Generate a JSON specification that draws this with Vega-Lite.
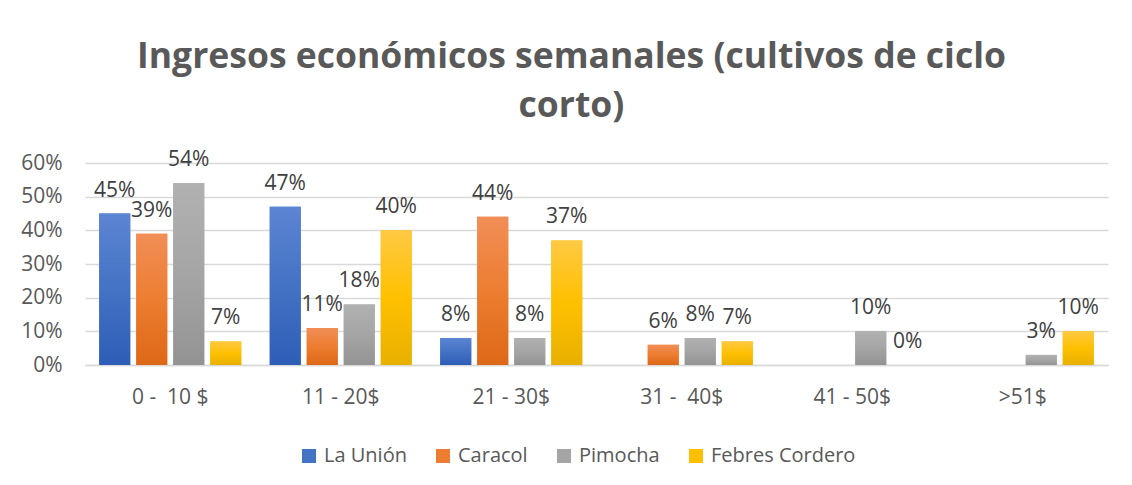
{
  "$schema": "https://vega.github.io/schema/vega-lite/v6.json",
  "width": 1023,
  "height": 202,
  "autosize": {"type": "none"},
  "padding": {"left": 85, "top": 163, "right": 24, "bottom": 120},
  "background": "white",
  "config": {
    "font": "Open Sans",
    "view": {"stroke": null}
  },
  "title": {
    "text": ["Ingresos económicos semanales (cultivos de ciclo", "corto)"],
    "font": "Open Sans",
    "fontSize": 35.5,
    "fontWeight": "bold",
    "color": "#595959",
    "anchor": "middle",
    "dx": -25,
    "lineHeight": 49,
    "offset": 25
  },
  "data": {
    "values": [
      {"rango": "0 - \u00a010 $", "zona": "La Unión", "valor": 0.45},
      {"rango": "0 - \u00a010 $", "zona": "Caracol", "valor": 0.39},
      {"rango": "0 - \u00a010 $", "zona": "Pimocha", "valor": 0.54},
      {"rango": "0 - \u00a010 $", "zona": "Febres Cordero", "valor": 0.07},
      {"rango": "11 - 20$", "zona": "La Unión", "valor": 0.47},
      {"rango": "11 - 20$", "zona": "Caracol", "valor": 0.11},
      {"rango": "11 - 20$", "zona": "Pimocha", "valor": 0.18},
      {"rango": "11 - 20$", "zona": "Febres Cordero", "valor": 0.40},
      {"rango": "21 - 30$", "zona": "La Unión", "valor": 0.08},
      {"rango": "21 - 30$", "zona": "Caracol", "valor": 0.44},
      {"rango": "21 - 30$", "zona": "Pimocha", "valor": 0.08},
      {"rango": "21 - 30$", "zona": "Febres Cordero", "valor": 0.37},
      {"rango": "31 - \u00a040$", "zona": "Caracol", "valor": 0.06},
      {"rango": "31 - \u00a040$", "zona": "Pimocha", "valor": 0.08},
      {"rango": "31 - \u00a040$", "zona": "Febres Cordero", "valor": 0.07},
      {"rango": "41 - 50$", "zona": "Pimocha", "valor": 0.10},
      {"rango": "41 - 50$", "zona": "Febres Cordero", "valor": 0.0},
      {"rango": ">51$", "zona": "Pimocha", "valor": 0.03},
      {"rango": ">51$", "zona": "Febres Cordero", "valor": 0.10}
    ]
  },
  "encoding": {
    "x": {
      "field": "rango",
      "type": "nominal",
      "sort": ["0 - \u00a010 $", "11 - 20$", "21 - 30$", "31 - \u00a040$", "41 - 50$", ">51$"],
      "scale": {"paddingInner": 0.167, "paddingOuter": 0.0835},
      "axis": {
        "title": null,
        "labelAngle": 0,
        "ticks": false,
        "domainColor": "#D9D9D9",
        "domainWidth": 1.3,
        "labelFontSize": 21,
        "labelColor": "#595959",
        "labelPadding": 21,
        "grid": false
      }
    },
    "xOffset": {
      "field": "zona",
      "type": "nominal",
      "sort": ["La Unión", "Caracol", "Pimocha", "Febres Cordero"],
      "scale": {"paddingInner": 0.162, "paddingOuter": 0}
    },
    "y": {
      "field": "valor",
      "type": "quantitative",
      "scale": {"domain": [0, 0.6], "nice": false},
      "axis": {
        "title": null,
        "values": [0, 0.1, 0.2, 0.3, 0.4, 0.5, 0.6],
        "format": ".0%",
        "domain": false,
        "ticks": false,
        "labelFontSize": 21,
        "labelColor": "#595959",
        "labelPadding": 23,
        "gridColor": "#D9D9D9",
        "gridWidth": 1.3
      }
    }
  },
  "layer": [
    {
      "mark": {"type": "bar"},
      "encoding": {
        "color": {
          "field": "zona",
          "type": "nominal",
          "sort": ["La Unión", "Caracol", "Pimocha", "Febres Cordero"],
          "scale": {
            "domain": ["La Unión", "Caracol", "Pimocha", "Febres Cordero"],
            "range": ["#4472C4", "#ED7D31", "#A5A5A5", "#FFC000"]
          },
          "legend": {
            "title": null,
            "orient": "none",
            "direction": "horizontal",
            "legendX": 214,
            "legendY": 283,
            "padding": 0,
            "symbolType": "square",
            "symbolSize": 196,
            "symbolStrokeWidth": 0,
            "labelFontSize": 20,
            "labelColor": "#595959",
            "labelOffset": 5,
            "columnPadding": 26
          }
        }
      }
    },
    {
      "transform": [{"filter": "datum.zona === 'La Unión'"}],
      "mark": {
        "type": "bar",
        "color": {
          "gradient": "linear", "x1": 0, "y1": 0, "x2": 0, "y2": 1,
          "stops": [
            {"offset": 0, "color": "#5C85D3"},
            {"offset": 0.5, "color": "#4472C4"},
            {"offset": 1, "color": "#2E5DB7"}
          ]
        }
      }
    },
    {
      "transform": [{"filter": "datum.zona === 'Caracol'"}],
      "mark": {
        "type": "bar",
        "color": {
          "gradient": "linear", "x1": 0, "y1": 0, "x2": 0, "y2": 1,
          "stops": [
            {"offset": 0, "color": "#F18E57"},
            {"offset": 0.5, "color": "#ED7D31"},
            {"offset": 1, "color": "#DD6817"}
          ]
        }
      }
    },
    {
      "transform": [{"filter": "datum.zona === 'Pimocha'"}],
      "mark": {
        "type": "bar",
        "color": {
          "gradient": "linear", "x1": 0, "y1": 0, "x2": 0, "y2": 1,
          "stops": [
            {"offset": 0, "color": "#B1B1B1"},
            {"offset": 0.5, "color": "#A5A5A5"},
            {"offset": 1, "color": "#939393"}
          ]
        }
      }
    },
    {
      "transform": [{"filter": "datum.zona === 'Febres Cordero'"}],
      "mark": {
        "type": "bar",
        "color": {
          "gradient": "linear", "x1": 0, "y1": 0, "x2": 0, "y2": 1,
          "stops": [
            {"offset": 0, "color": "#FFC944"},
            {"offset": 0.5, "color": "#FFC000"},
            {"offset": 1, "color": "#E8B000"}
          ]
        }
      }
    },
    {
      "mark": {
        "type": "text",
        "baseline": "alphabetic",
        "align": "center",
        "dy": -17,
        "fontSize": 21,
        "color": "#404040"
      },
      "encoding": {
        "text": {"field": "valor", "type": "quantitative", "format": ".0%"}
      }
    }
  ]
}
